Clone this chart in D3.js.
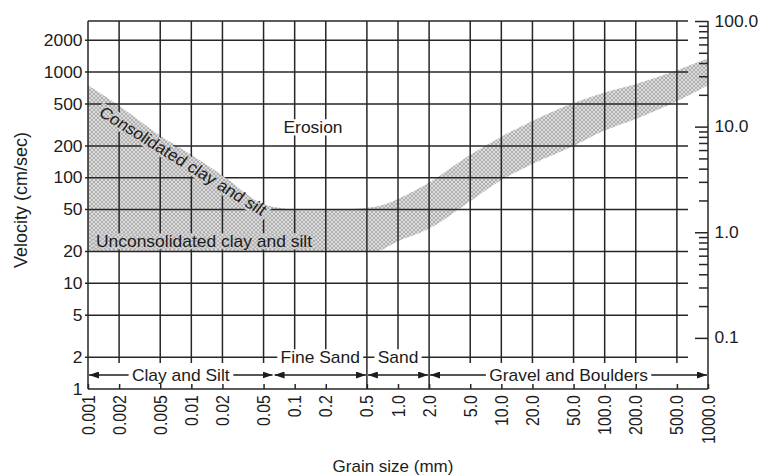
<!DOCTYPE html>
<html>
<head>
<meta charset="UTF-8" />
<script src="https://cdn.jsdelivr.net/npm/d3@7"></script>
<title>Erosion velocity vs grain size</title>
<style>
    body { margin: 0; background: #fff; }
    svg text { font-family: "Liberation Sans", Arial, sans-serif; fill: #1c1c1c; }
    .grid { stroke: #262626; stroke-width: 1.5; }
</style>
</head>
<body>
<div id="chart"></div>
<script>
// ---- data ----
const grainTicks  = [0.001, 0.002, 0.005, 0.01, 0.02, 0.05, 0.1, 0.2, 0.5, 1, 2, 5, 10, 20, 50, 100, 200, 500, 1000];
const grainLabels = ["0.001", "0.002", "0.005", "0.01", "0.02", "0.05", "0.1", "0.2", "0.5", "1.0", "2.0", "5.0",
                     "10.0", "20.0", "50.0", "100.0", "200.0", "500.0", "1000.0"];
const velTicks    = [1, 2, 5, 10, 20, 50, 100, 200, 500, 1000, 2000];
const ftTicks     = [0.1, 1, 10, 100];
const ftLabels    = ["0.1", "1.0", "10.0", "100.0"];

// erosion band (cm/sec) : upper = consolidated, lower = unconsolidated
const bandGrain = [0.001, 0.002, 0.005, 0.01, 0.02, 0.05, 0.08, 0.15, 0.3, 0.6, 1, 2, 5, 10, 20, 50, 100, 200, 500, 1000];
const bandUpper = [750, 480, 250, 165, 105, 56, 51, 49, 50, 53, 63, 90, 165, 245, 345, 510, 640, 770, 1040, 1350];
const bandLower = [20, 20, 20, 20, 20, 20, 20, 20, 20, 20, 25, 33, 60, 95, 135, 200, 280, 360, 530, 750];

const classNames  = ["Clay and Silt", "Fine Sand", "Sand", "Gravel and Boulders"];
const classBounds = [0.001, 0.0625, 0.5, 2, 1000];
const classRaised = [false, true, true, false];   // label sits on the "2" line

const W = 760, H = 475;
const pL = 88, pR = 708, pT = 21, pB = 389;
const gridEnd = 688, vGridEnd = 363, arrowY = 375, raisedY = 357;
const SX = 1.09;   // the scanned lettering is a little wide

const x = d3.scaleLog().domain([0.001, 1000]).range([pL, pR]);
const y = d3.scaleLog().domain([1, 3048]).range([pB, pT]);
const yFt = d3.scaleLog().domain([1 / 30.48, 100]).range([pB, pT]);   // ft/sec

const svg = d3.select("#chart").append("svg")
    .attr("width", W)
    .attr("height", H);

const defs = svg.append("defs");
const pat = defs.append("pattern")
    .attr("id", "stipple")
    .attr("patternUnits", "userSpaceOnUse")
    .attr("width", 4).attr("height", 4);
pat.append("rect").attr("width", 4).attr("height", 4).attr("fill", "#dcdcdc");
pat.append("path").attr("d", "M0,0 L4,4 M4,0 L0,4").attr("stroke", "#9c9c9c").attr("stroke-width", 0.7);

const bandData = bandGrain.map((g, i) => ({g: g, hi: bandUpper[i], lo: bandLower[i]}));
const area = d3.area()
    .x(d => x(d.g))
    .y0(d => y(d.lo))
    .y1(d => y(d.hi))
    .curve(d3.curveMonotoneX);

defs.append("clipPath").attr("id", "bandClip")
    .append("path").attr("d", area(bandData));

svg.append("path")
    .attr("d", area(bandData))
    .attr("fill", "url(#stipple)");

// ---- grid ----
const grid = svg.append("g");
velTicks.filter(v => v > 1).forEach(v => {
    grid.append("line").attr("class", "grid")
        .attr("x1", pL - 3).attr("x2", gridEnd)
        .attr("y1", y(v)).attr("y2", y(v));
});
grainTicks.filter(g => g > 0.001 && g < 1000).forEach(g => {
    const full = (g === 0.5 || g === 2);
    grid.append("line").attr("class", "grid")
        .attr("x1", x(g)).attr("x2", x(g))
        .attr("y1", pT).attr("y2", full ? pB : vGridEnd);
});
// frame
grid.append("line").attr("class", "grid").attr("x1", pL).attr("x2", pL).attr("y1", pT).attr("y2", pB);
grid.append("line").attr("class", "grid").attr("x1", pL).attr("x2", gridEnd).attr("y1", pT).attr("y2", pT);
grid.append("line").attr("class", "grid").attr("x1", pL).attr("x2", pR).attr("y1", pB).attr("y2", pB);
grid.append("line").attr("class", "grid").attr("x1", pR).attr("x2", pR).attr("y1", pT).attr("y2", pB);

// ---- axes ----
const yAxis = d3.axisLeft(y).tickValues(velTicks).tickFormat(d3.format("d")).tickSize(0).tickPadding(5);
svg.append("g")
    .attr("transform", "translate(" + pL + ",0)")
    .call(yAxis)
    .call(g => g.select(".domain").remove())
    .selectAll("text")
    .attr("transform", "scale(" + SX + ",1)")
    .style("font-size", "16px").attr("font-family", null);

const xAxis = d3.axisBottom(x).tickValues(grainTicks).tickFormat((d, i) => grainLabels[i]).tickSize(-5);
const gx = svg.append("g")
    .attr("transform", "translate(0," + pB + ")")
    .call(xAxis)
    .call(g => g.select(".domain").remove());
gx.selectAll("line").attr("stroke", "#262626").attr("stroke-width", 1.5);
gx.selectAll("text")
    .attr("transform", "scale(" + SX + ",1) rotate(-90)")
    .attr("x", -6).attr("y", 0).attr("dy", "0.35em")
    .attr("text-anchor", "end")
    .attr("font-family", null)
    .style("font-size", "16px");

const minorFt = yFt.ticks().filter(v => v >= 0.1 - 1e-9 && !ftTicks.some(t => Math.abs(t - v) < 1e-9));
const gr = svg.append("g").attr("transform", "translate(" + pR + ",0)");
gr.call(d3.axisRight(yFt).tickValues(minorFt).tickFormat("").tickSize(-9))
    .call(g => g.select(".domain").remove());
const gr2 = svg.append("g").attr("transform", "translate(" + pR + ",0)");
gr2.call(d3.axisRight(yFt).tickValues(ftTicks).tickFormat((d, i) => ftLabels[i]).tickSize(-13).tickPadding(6))
    .call(g => g.select(".domain").remove());
gr.selectAll("line").attr("stroke", "#262626").attr("stroke-width", 1.5);
gr2.selectAll("line").attr("stroke", "#262626").attr("stroke-width", 1.5);
gr2.selectAll("text")
    .attr("transform", "scale(" + SX + ",1)")
    .attr("font-family", null).style("font-size", "16px");

// ---- size classes with arrows ----
defs.append("marker")
    .attr("id", "arrow")
    .attr("viewBox", "0 0 10 7")
    .attr("refX", 10).attr("refY", 3.5)
    .attr("markerWidth", 10).attr("markerHeight", 7)
    .attr("markerUnits", "userSpaceOnUse")
    .attr("orient", "auto-start-reverse")
    .append("path").attr("d", "M0,0 L10,3.5 L0,7 z").attr("fill", "#1c1c1c");

function labelBox(g, txt, cx, cy, size, bg, anchor) {
    const grp = g.append("g")
        .attr("transform", "translate(" + cx + "," + cy + ") scale(" + SX + ",1)");
    const t = grp.append("text")
        .attr("dy", "0.35em")
        .attr("text-anchor", anchor || "middle")
        .style("font-size", size + "px")
        .text(txt);
    const b = t.node().getBBox();
    grp.insert("rect", () => t.node())
        .attr("x", b.x - 3).attr("y", b.y + 1)
        .attr("width", b.width + 6).attr("height", b.height - 2)
        .attr("fill", bg);
    return t;
}

const cls = svg.append("g");
classNames.forEach((name, i) => {
    const x0 = x(classBounds[i]), x1 = x(classBounds[i + 1]);
    cls.append("line")
        .attr("x1", x0 + 1).attr("x2", x1 - 1)
        .attr("y1", arrowY).attr("y2", arrowY)
        .attr("stroke", "#1c1c1c").attr("stroke-width", 1.3)
        .attr("marker-start", "url(#arrow)")
        .attr("marker-end", "url(#arrow)");
});
classNames.forEach((name, i) => {
    const cx = (x(classBounds[i]) + x(classBounds[i + 1])) / 2;
    labelBox(cls, name, cx, classRaised[i] ? raisedY : arrowY, 16, "#fff");
});

// ---- annotations ----
const ann = svg.append("g");
labelBox(ann, "Erosion", 313, 127, 16, "#fff");
labelBox(ann, "Unconsolidated clay and silt", 96, 241, 16, "url(#stipple)", "start");

const cx = 183, cy = 161, ang = 34;
const ct = ann.append("text")
    .attr("transform", "translate(" + cx + "," + cy + ") scale(" + SX + ",1) rotate(" + ang + ")")
    .attr("dy", "0.35em")
    .attr("text-anchor", "middle")
    .style("font-size", "16px")
    .text("Consolidated clay and silt");
const cb = ct.node().getBBox();
const rad = ang * Math.PI / 180;
const corners = [[cb.x - 3, cb.y + 1], [cb.x + cb.width + 3, cb.y + 1],
                 [cb.x + cb.width + 3, cb.y + cb.height - 1], [cb.x - 3, cb.y + cb.height - 1]]
    .map(p => [cx + SX * (p[0] * Math.cos(rad) - p[1] * Math.sin(rad)),
               cy + p[0] * Math.sin(rad) + p[1] * Math.cos(rad)]);
ann.insert("path", () => ct.node())
    .attr("d", d3.line()(corners) + "Z")
    .attr("fill", "url(#stipple)")
    .attr("clip-path", "url(#bandClip)");

// ---- axis titles ----
svg.append("text")
    .attr("transform", "translate(21,200) rotate(-90)")
    .attr("dy", "0.35em")
    .attr("text-anchor", "middle")
    .style("font-size", "18px")
    .text("Velocity (cm/sec)");
svg.append("text")
    .attr("x", 393).attr("y", 466)
    .attr("dy", "0.35em")
    .attr("text-anchor", "middle")
    .style("font-size", "17px")
    .text("Grain size (mm)");
</script>
</body>
</html>
